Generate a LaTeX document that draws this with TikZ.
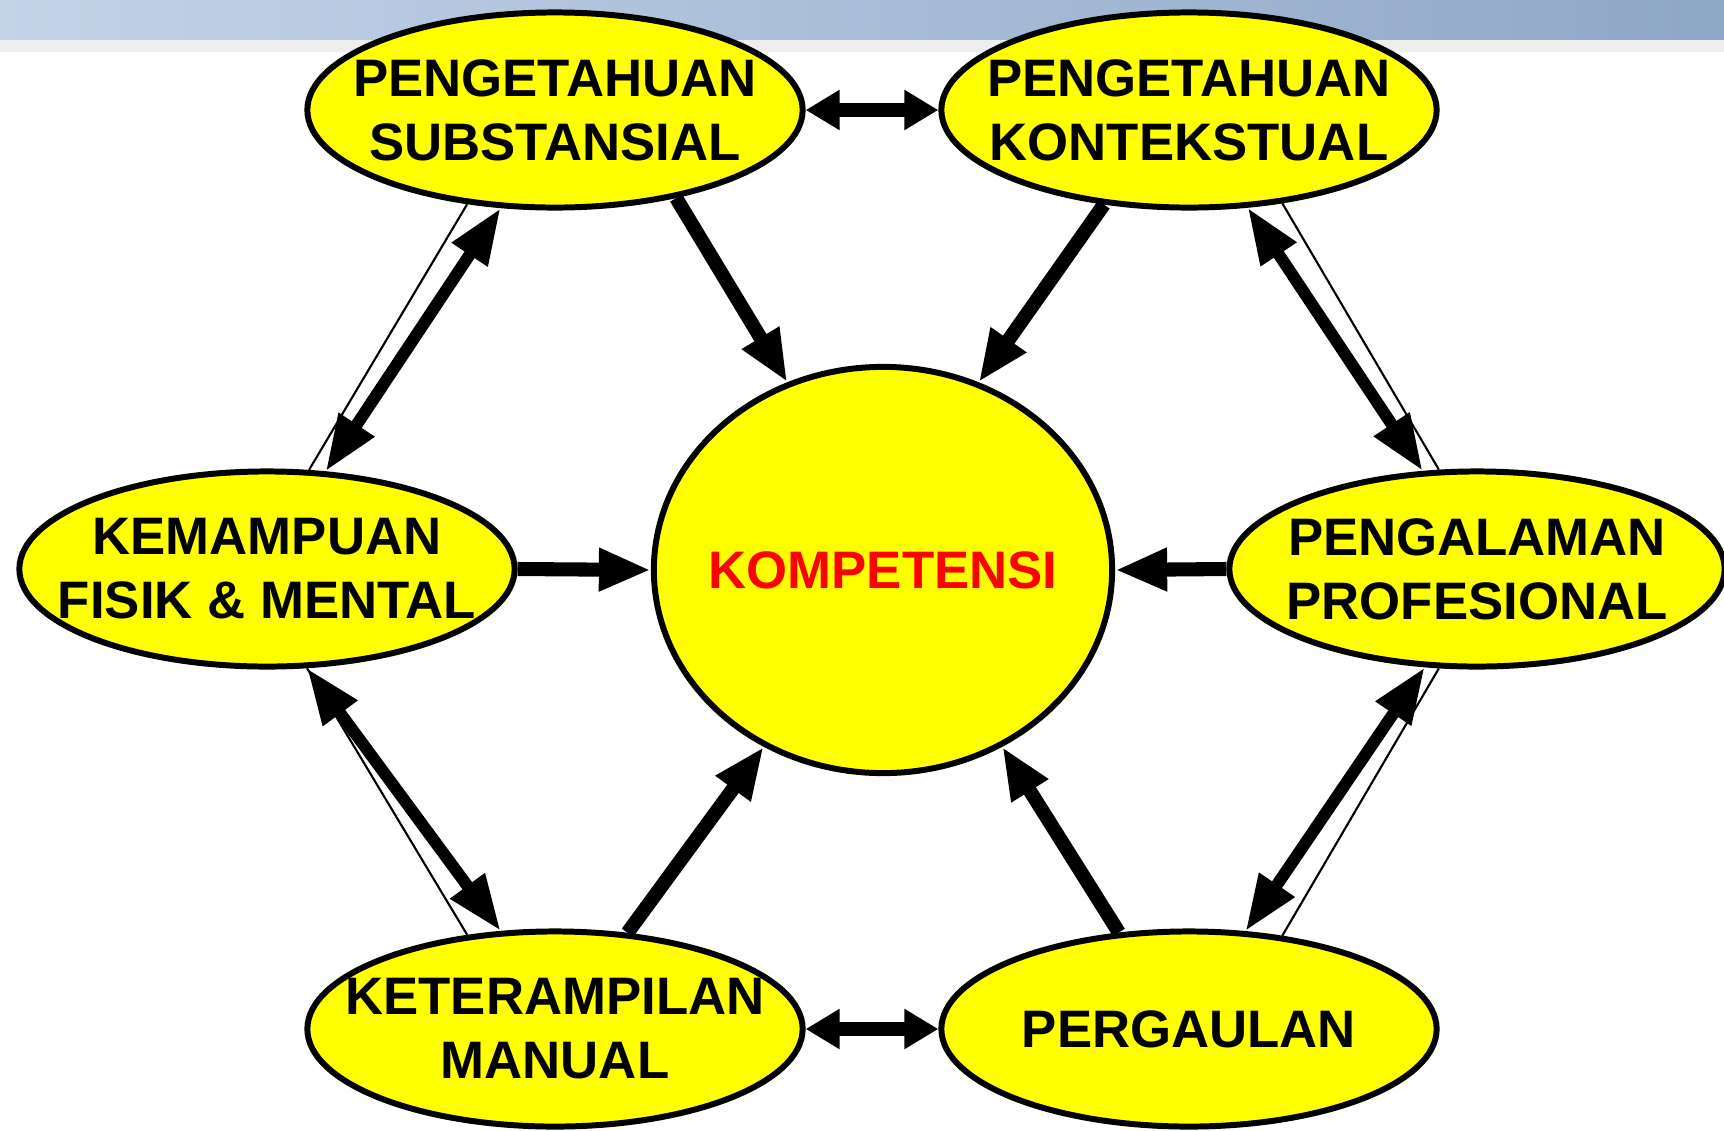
\documentclass[tikz,border=0pt]{standalone}
\usepackage{fontspec}
\setmainfont{Liberation Sans}
\usetikzlibrary{shapes.geometric,arrows.meta}
\definecolor{bandleft}{HTML}{C3D3E8}
\definecolor{bandright}{HTML}{8FA7C7}
\definecolor{stripgray}{HTML}{EEEEEE}
\definecolor{bubbleyellow}{RGB}{255,255,0}
\definecolor{corered}{RGB}{255,0,0}
\begin{document}
\begin{tikzpicture}[x=0.01cm, y=-0.01cm,
    bubble/.style={ellipse, draw, line width=1.7pt, fill=bubbleyellow,
      minimum width=4.95cm, minimum height=1.95cm,
      inner xsep=-0.7cm, inner ysep=-0.35cm, align=center,
      font=\fontsize{15}{18.2}\selectfont\bfseries},
    core/.style={bubble, minimum width=4.58cm, minimum height=4.06cm, text=corered},
    arr/.style={line width=4pt, -{Triangle[length=0.52cm, width=0.4cm]}},
    dblarr/.style={line width=3.4pt,
      {Triangle[length=0.56cm, width=0.4cm]}-{Triangle[length=0.56cm, width=0.4cm]}},
    shortarr/.style={line width=4pt,
      {Triangle[length=0.34cm, width=0.38cm]}-{Triangle[length=0.34cm, width=0.38cm]}},
    thinline/.style={line width=0.6pt}]
  \useasboundingbox (0,0) rectangle (1724,1130);

  % slide background band
  \shade[left color=bandleft, right color=bandright] (0,0) rectangle (1724,40);
  \fill[stripgray] (0,40) rectangle (1724,52);

  % the six surrounding ellipses and the centre
  \node[core] (ko) at (883,570) {KOMPETENSI};
  \node[bubble] (ps) at (555,110) {PENGETAHUAN\\SUBSTANSIAL};
  \node[bubble] (pk) at (1189,110) {PENGETAHUAN\\KONTEKSTUAL};
  \node[bubble] (km) at (267,569) {KEMAMPUAN\\FISIK \& MENTAL};
  \node[bubble] (pp) at (1477,569) {PENGALAMAN\\PROFESIONAL};
  \node[bubble] (kt) at (555,1029) {KETERAMPILAN\\MANUAL};
  \node[bubble] (pg) at (1189,1029) {PERGAULAN};

  % thin lines along the sides
  \draw[thinline] (ps.-133.5) -- (km.67.8);
  \draw[thinline] (pk.-45.9) -- (pp.111.2);
  \draw[thinline] (km.-68) -- (kt.133.5);
  \draw[thinline] (pp.-111) -- (pg.45.9);

  % arrows into the centre
  \draw[arr] (ps.-36.6) -- (ko.117.3);
  \draw[arr] (pk.-132.7) -- (ko.63.2);
  \draw[arr] (km.east) -- (ko.west);
  \draw[arr] (pp.west) -- (ko.east);
  \draw[arr] (kt.53) -- (ko.-124);
  \draw[arr] (pg.126.3) -- (ko.-56.2);

  % arrows between neighbours
  \draw[shortarr] (ps.east) -- (pk.west);
  \draw[shortarr] (kt.east) -- (pg.west);
  \draw[dblarr] (ps.-119.1) -- (km.59.8);
  \draw[dblarr] (pk.-59.6) -- (pp.119.8);
  \draw[dblarr] (km.-68.5) -- (kt.119.1);
  \draw[dblarr] (pp.-118.7) -- (pg.60);
\end{tikzpicture}
\end{document}
